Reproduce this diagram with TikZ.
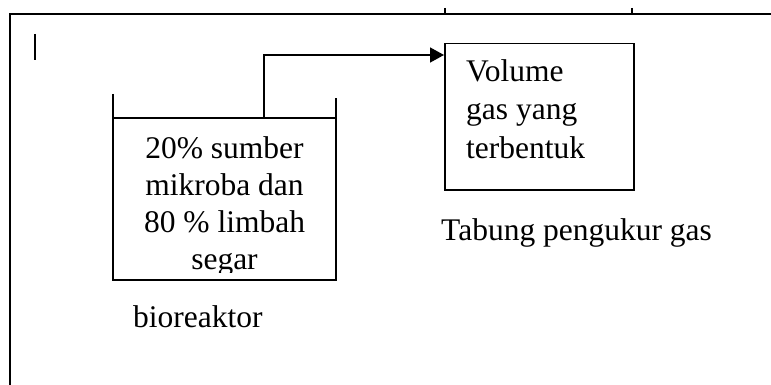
\documentclass[tikz,border=0pt]{standalone}
\usepackage{fontspec}
\setmainfont{Liberation Serif}
\usetikzlibrary{arrows.meta}

\begin{document}
\begin{tikzpicture}[x=1pt,y=-1pt,
  line/.style={line width=1.5pt},
  lbl/.style={inner sep=0pt,font=\fontsize{31.5}{37}\selectfont},
  flow/.style={line, -{Triangle[length=14pt,width=15pt]}}]
  \useasboundingbox (0,0) rectangle (771,385);

  % outer frame (top and left edges) with two small ticks
  \draw[line] (771,14) -- (10,14) -- (10,385);
  \draw[line] (445,8) -- (445,14);
  \draw[line] (632,8) -- (632,14);
  \draw[line] (35,34) -- (35,60);

  % bioreactor vessel
  \draw[line] (113,94) -- (113,280) -- (336,280) -- (336,98);
  \draw[line] (113,118) -- (336,118);
  \coordinate (outlet) at (264,118);
  \begin{scope}
    \clip (113,119) rectangle (336,272);
    % multi-line node: its base anchor sits on the last line
    \node[lbl, anchor=base, align=center] (mix) at (224.5,269)
      {20\% sumber\\mikroba dan\\80 \% limbah\\segar};
  \end{scope}
  \node[lbl, anchor=base west] (bio) at (133,327) {bioreaktor};

  % gas measuring tube
  \node[draw, line, inner sep=0pt, minimum width=189pt, minimum height=146pt,
        anchor=north west] (tube) at (444,43) {};
  \node[lbl, anchor=base west, align=left, font=\fontsize{31.5}{38.5}\selectfont]
    (vol) at (466,158) {Volume\\gas yang\\terbentuk};
  \node[lbl, anchor=base west] (tubelbl) at (441,240) {Tabung pengukur gas};

  % gas line from bioreactor to tube
  \draw[flow] (outlet) |- ([yshift=-12pt]tube.north west);
\end{tikzpicture}
\end{document}
